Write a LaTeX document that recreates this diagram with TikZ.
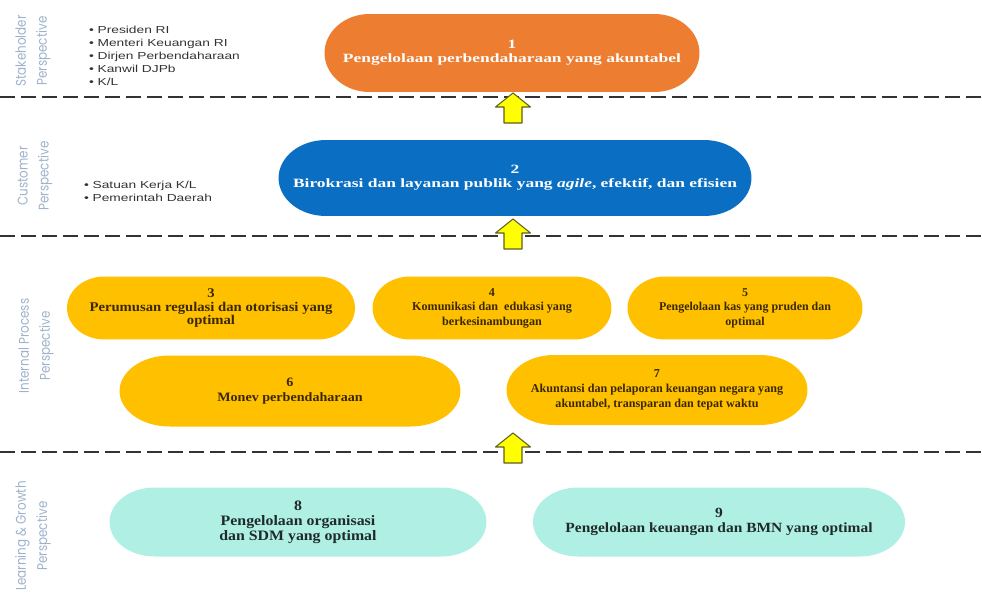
\documentclass[tikz,border=0pt]{standalone}
\usepackage{fontspec}
\setmainfont{Liberation Serif}
\newfontfamily\goalfont[FakeStretch=1.38]{Liberation Serif}
\newfontfamily\goalnarrow[FakeStretch=1.1]{Liberation Serif}
\newfontfamily\goalplain{Liberation Serif}
\newfontfamily\listfont[FakeStretch=1.35]{Liberation Sans}
\newfontfamily\perspfont[FakeStretch=0.85]{Poppins}
\usepackage{tikz}
\usetikzlibrary{positioning,backgrounds}
\definecolor{mapOrange}{HTML}{ED7D31}
\definecolor{mapBlue}{HTML}{0A6FC2}
\definecolor{mapGold}{HTML}{FFC000}
\definecolor{mapMint}{HTML}{B0F0E4}
\definecolor{mapInk}{HTML}{3A2800}
\definecolor{mapTeal}{HTML}{1F2A2A}
\definecolor{mapPersp}{HTML}{9EB3CB}
\definecolor{mapList}{HTML}{333333}
\definecolor{mapLine}{HTML}{333333}
\definecolor{mapArrow}{HTML}{FFFF00}
\definecolor{mapArrowEdge}{HTML}{5E5E22}
% pill with elliptical ends behind a goal node: node, colour, end x radius, half height
\newcommand{\pillFill}[4]{%
  \fill[#2] ([xshift=#3]#1.north west) -- ([xshift=-#3]#1.north east)
    arc[start angle=90, end angle=-90, x radius=#3, y radius=#4]
    -- ([xshift=#3]#1.south west)
    arc[start angle=270, end angle=90, x radius=#3, y radius=#4] -- cycle;}
\tikzset{
  mapBase/.style={
    every node/.style={inner sep=0pt, outer sep=0pt},
    line cap=butt, line join=round,
  },
  goalBox/.style={
    rectangle, align=center, inner sep=0pt,
    font=\goalfont\bfseries\fontsize{7.2}{8.1}\selectfont,
  },
  goalText/.style 2 args={font=\goalnarrow\bfseries\fontsize{#1}{#2}\selectfont},
  goalTight/.style 2 args={font=\goalplain\bfseries\fontsize{#1}{#2}\selectfont},
  goalSize/.style 2 args={minimum width=#1cm, minimum height=#2cm},
  goalOrange/.style={goalBox, text=white},
  goalBlue/.style={goalBox, text=white},
  goalGold/.style={goalBox, text=mapInk},
  goalMint/.style={goalBox, text=mapTeal},
  perspLabel/.style={
    rotate=90, align=center, text=mapPersp,
    font=\perspfont\fontsize{8}{12}\selectfont,
  },
  bulletList/.style={
    align=left, anchor=west, text=mapList,
    font=\listfont\fontsize{5.8}{7.3}\selectfont,
  },
  bandLine/.style={mapLine, line width=1.2pt, dash pattern=on 0.3cm off 0.12cm},
  arrowFill/.style={fill=mapArrow, draw=mapArrowEdge, line width=0.6pt},
  pics/upArrow/.style={code={
    \draw[arrowFill] (0,-15) -- (17.5,-1) -- (9,-1) -- (9,15)
      -- (-9,15) -- (-9,-1) -- (-17.5,-1) -- cycle;
  }},
}

\begin{document}
\begin{tikzpicture}[mapBase, x=0.02cm, y=-0.02cm]
\useasboundingbox (0,0) rectangle (982,598);

% band separators
\def\lineA{97}
\def\lineB{236}
\def\lineC{452}
\draw[bandLine] (0,\lineA) -- (982,\lineA);
\draw[bandLine] (0,\lineB) -- (982,\lineB);
\draw[bandLine] (0,\lineC) -- (982,\lineC);

% perspective titles down the left edge
\node[perspLabel] (pStake) at (33,51)  {Stakeholder\\Perspective};
\node[perspLabel] (pCust)  at (35,176) {Customer\\Perspective};
\node[perspLabel] (pProc)  at (36,346) {Internal Process\\Perspective};
\node[perspLabel] (pGrow)  at (33,536) {Learning \& Growth\\Perspective};

% who each upper band serves
\node[bulletList] (stakeList) at (89,56)
  {•\ Presiden RI\\ •\ Menteri Keuangan RI\\ •\ Dirjen Perbendaharaan\\
   •\ Kanwil DJPb\\ •\ K/L};
\node[bulletList] (custList) at (84,191)
  {•\ Satuan Kerja K/L\\ •\ Pemerintah Daerah};

% strategic objectives
\node[goalOrange, goalSize={7.5}{1.56}] (g1) at (512,53)
  {1\\Pengelolaan perbendaharaan yang akuntabel};
\node[goalBlue, goalSize={9.46}{1.52}] (g2) at (515,178)
  {2\\Birokrasi dan layanan publik yang \textit{agile}, efektif, dan efisien};

\node[goalGold, goalText={7.6}{7.9}, goalSize={5.76}{1.26}] (g3) at (211,308)
  {3\\Perumusan regulasi dan otorisasi yang\\optimal};
\node[goalGold, goalTight={6.9}{8.2}, goalSize={4.78}{1.26}] (g4) at (492,308)
  {4\\Komunikasi dan\ \ edukasi yang\\berkesinambungan};
\node[goalGold, goalTight={6.8}{8.2}, goalSize={4.7}{1.26}] (g5) at (745,308)
  {5\\Pengelolaan kas yang pruden dan\\optimal};
\node[goalGold, goalText={7.3}{8.4}, goalSize={6.82}{1.42}] (g6) at (290,391)
  {6\\Monev perbendaharaan};
\node[goalGold, goalTight={6.9}{8.6}, goalSize={6.02}{1.4}] (g7) at (657,390)
  {7\\Akuntansi dan pelaporan keuangan negara yang\\akuntabel, transparan dan tepat waktu};

\node[goalMint, goalText={8.2}{8.6}, goalSize={7.54}{1.38}] (g8) at (298,522)
  {8\\Pengelolaan organisasi\\dan SDM yang optimal};
\node[goalMint, goalText={8.0}{8.6}, goalSize={7.44}{1.38}] (g9) at (719,522)
  {9\\Pengelolaan keuangan dan BMN yang optimal};

% pill backgrounds
\begin{scope}[on background layer]
  \pillFill{g1}{mapOrange}{0.9cm}{0.78cm}
  \pillFill{g2}{mapBlue}{0.95cm}{0.76cm}
  \pillFill{g3}{mapGold}{0.75cm}{0.63cm}
  \pillFill{g4}{mapGold}{0.75cm}{0.63cm}
  \pillFill{g5}{mapGold}{0.75cm}{0.63cm}
  \pillFill{g6}{mapGold}{1.0cm}{0.71cm}
  \pillFill{g7}{mapGold}{0.95cm}{0.7cm}
  \pillFill{g8}{mapMint}{0.9cm}{0.69cm}
  \pillFill{g9}{mapMint}{0.9cm}{0.69cm}
\end{scope}

% upward block arrows across the band separators
\pic at (513,108) {upArrow};
\pic at (513,234) {upArrow};
\pic at (513,448) {upArrow};

\end{tikzpicture}
\end{document}
